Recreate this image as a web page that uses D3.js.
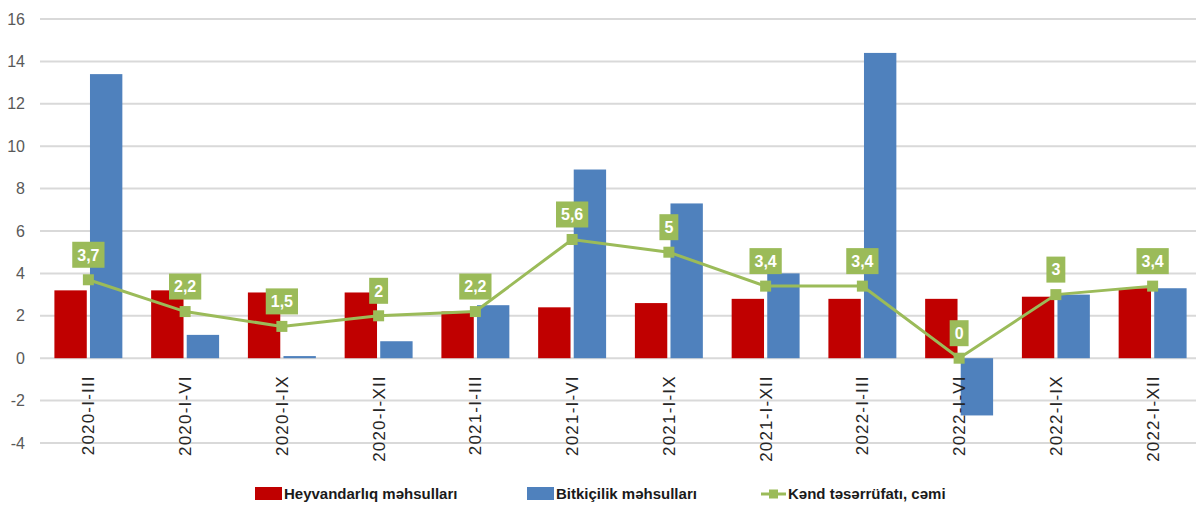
<!DOCTYPE html>
<html>
<head>
<meta charset="utf-8">
<script src="https://cdn.jsdelivr.net/npm/d3@7"></script>
<style>
  body { margin: 0; background: #fff; }
  svg { display: block; }
</style>
</head>
<body>
<div id="chart"></div>
<script>

// Periods shown on the X axis.
const periods = ["2020-I-III", "2020-I-VI", "2020-I-IX", "2020-I-XII",
                 "2021-I-III", "2021-I-VI", "2021-I-IX", "2021-I-XII",
                 "2022-I-III", "2022-I-VI", "2022-I-IX", "2022-I-XII"];

// Series values.
const heyvandarliq = [3.2, 3.2, 3.1, 3.1, 2.2, 2.4, 2.6, 2.8, 2.8, 2.8, 2.9, 3.3];
const bitkicilik   = [13.4, 1.1, 0.1, 0.8, 2.5, 8.9, 7.3, 4.0, 14.4, -2.7, 3.0, 3.3];
const kendCemi     = [3.7, 2.2, 1.5, 2.0, 2.2, 5.6, 5.0, 3.4, 3.4, 0, 3.0, 3.4];

const yTicks = [-4, -2, 0, 2, 4, 6, 8, 10, 12, 14, 16];

const seriesNames = ["Heyvandarlıq məhsulları", "Bitkiçilik məhsulları", "Kənd təsərrüfatı, cəmi"];
const colors = ["#c00000", "#4f81bd", "#9bbb59"];

var width = 1196, height = 507;
var margin = {top: 19, right: -5, bottom: 64, left: 40};

var svg = d3.select("#chart")
  .append("svg")
  .attr("width", width)
  .attr("height", height);

// Scales
var x = d3.scaleBand()
  .domain(periods)
  .range([margin.left, width - margin.right])
  .paddingInner(0)
  .paddingOuter(0);

var xSub = d3.scaleBand()
  .domain([0, 1])
  .range([14.4, x.bandwidth() - 14.4])
  .paddingInner(0.09);

var y = d3.scaleLinear()
  .domain([-4, 16])
  .range([height - margin.bottom, margin.top]);

// Grid lines
svg.append("g")
  .selectAll("line")
  .data(yTicks)
  .enter()
  .append("line")
  .attr("x1", margin.left)
  .attr("x2", width)
  .attr("y1", function(d) { return y(d); })
  .attr("y2", function(d) { return y(d); })
  .attr("stroke", "#d9d9d9")
  .attr("stroke-width", 2);

// Y axis labels (plain hyphen for negatives, like the original)
var yAxis = svg.append("g")
  .attr("transform", "translate(" + margin.left + ",0)")
  .call(d3.axisLeft(y).tickValues(yTicks).tickSize(0).tickPadding(15)
    .tickFormat(function(d) { return String(d); }));
yAxis.select(".domain").remove();
yAxis.selectAll("text")
  .attr("fill", "#595959")
  .style("font-family", "'Liberation Sans', Arial, sans-serif")
  .style("font-size", "16px");

// Bars
var groups = svg.append("g")
  .selectAll("g")
  .data(periods)
  .enter()
  .append("g")
  .attr("transform", function(d) { return "translate(" + x(d) + ",0)"; });

[heyvandarliq, bitkicilik].forEach(function(values, s) {
  groups.append("rect")
    .attr("x", xSub(s))
    .attr("width", xSub.bandwidth())
    .attr("y", function(d, i) { return y(Math.max(0, values[i])); })
    .attr("height", function(d, i) { return Math.abs(y(values[i]) - y(0)); })
    .attr("fill", colors[s]);
});

// X axis labels (rotated)
svg.append("g")
  .selectAll("text")
  .data(periods)
  .enter()
  .append("text")
  .attr("transform", function(d) {
    return "translate(" + (x(d) + x.bandwidth() / 2 + 6) + "," + (y(0) + 17) + ") rotate(-90)";
  })
  .attr("text-anchor", "end")
  .attr("fill", "#262626")
  .style("font-family", "'Liberation Sans', Arial, sans-serif")
  .style("font-size", "17px")
  .style("letter-spacing", "1.2px")
  .text(function(d) { return d; });

// Line series
var cx = function(d, i) { return x(periods[i]) + x.bandwidth() / 2; };

var line = d3.line()
  .x(function(d, i) { return cx(d, i); })
  .y(function(d) { return y(d); });

svg.append("path")
  .datum(kendCemi)
  .attr("d", line)
  .attr("fill", "none")
  .attr("stroke", colors[2])
  .attr("stroke-width", 3);

svg.append("g")
  .selectAll("rect")
  .data(kendCemi)
  .enter()
  .append("rect")
  .attr("x", function(d, i) { return cx(d, i) - 5.5; })
  .attr("y", function(d) { return y(d) - 5.5; })
  .attr("width", 11)
  .attr("height", 11)
  .attr("fill", colors[2]);

// Data labels in green boxes
var labels = svg.append("g")
  .selectAll("g")
  .data(kendCemi)
  .enter()
  .append("g")
  .attr("transform", function(d, i) { return "translate(" + cx(d, i) + "," + (y(d) - 25) + ")"; });

labels.append("text")
  .attr("text-anchor", "middle")
  .attr("dy", "0.36em")
  .attr("fill", "#ffffff")
  .style("font-family", "'Liberation Sans Narrow', 'Arial Narrow', 'Liberation Sans', Arial, sans-serif")
  .style("font-weight", "bold")
  .style("font-size", "16px")
  .text(function(d) { return String(d).replace(".", ","); });

labels.each(function() {
  var g = d3.select(this);
  var w = g.select("text").node().getComputedTextLength();
  g.insert("rect", "text")
    .attr("x", -w / 2 - 5)
    .attr("y", -13)
    .attr("width", w + 10)
    .attr("height", 26)
    .attr("fill", colors[2]);
});

// Legend
var legendX = [255, 527, 761];
var legend = svg.append("g")
  .selectAll("g")
  .data(seriesNames)
  .enter()
  .append("g")
  .attr("transform", function(d, i) { return "translate(" + legendX[i] + ",494)"; });

legend.each(function(d, i) {
  var g = d3.select(this);
  if (i < 2) {
    g.append("rect")
      .attr("x", 0).attr("y", -7)
      .attr("width", 27).attr("height", 13)
      .attr("fill", colors[i]);
  } else {
    g.append("line")
      .attr("x1", 0).attr("x2", 25)
      .attr("y1", 0).attr("y2", 0)
      .attr("stroke", colors[2]).attr("stroke-width", 3);
    g.append("rect")
      .attr("x", 8).attr("y", -4.5)
      .attr("width", 9).attr("height", 9)
      .attr("fill", colors[2]);
  }
  g.append("text")
    .attr("x", i < 2 ? 29 : 27)
    .attr("dy", "0.35em")
    .attr("fill", "#1a1a1a")
    .style("font-family", "'Liberation Sans', Arial, sans-serif")
    .style("font-weight", "bold")
    .style("font-size", "15px")
    .text(d);
});

</script>
</body>
</html>
